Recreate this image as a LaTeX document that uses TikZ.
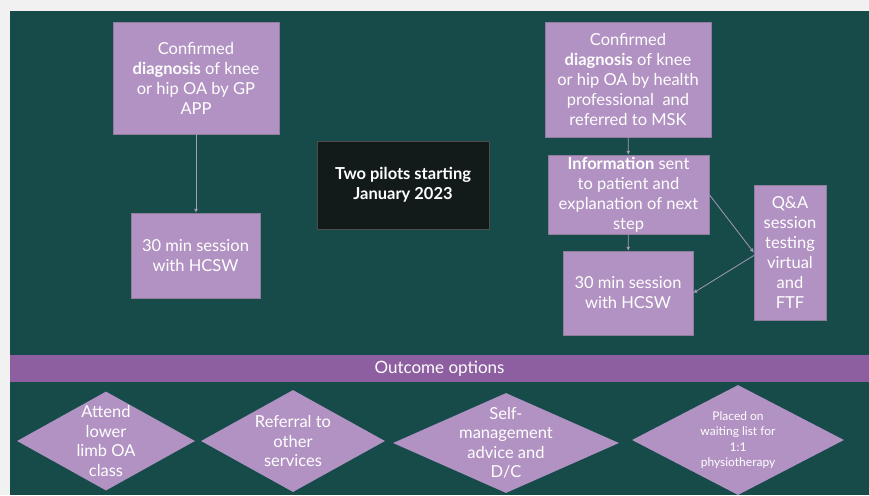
\documentclass[tikz,border=0pt]{standalone}
\usepackage{fontspec}
\setmainfont{Lato}
\usetikzlibrary{shapes.geometric,arrows.meta}
\definecolor{bgteal}{HTML}{164B49}
\definecolor{boxlilac}{HTML}{B192C2}
\definecolor{bandpurple}{HTML}{8E5FA0}
\definecolor{boxedge}{HTML}{8E7E9C}
\definecolor{arrowgrey}{HTML}{A59AB8}
\definecolor{pilotblack}{HTML}{131A1A}
\definecolor{pagegrey}{HTML}{F1F1F1}

\begin{document}
\begin{tikzpicture}[x=1pt, y=-1pt,
	textbox/.style={draw=boxedge, fill=boxlilac, text=white, inner sep=0, align=center, font=\fontsize{16.5}{20}\selectfont},
	optdiam/.style={diamond, fill=boxlilac, inner sep=0},
	optlabel/.style={text=white, align=center, font=\fontsize{16.5}{19.5}\selectfont},
	flow/.style={arrowgrey, line width=0.8, -{Latex[length=4pt,width=4pt]}}
]
\fill[pagegrey] (0,0) rectangle (869,495);
\fill[bgteal] (10,11) rectangle (869,495);

% GP APP pilot
\node[textbox, minimum width=166, minimum height=112] (conf1) at (196,78) {Confirmed\\\textbf{diagnosis} of knee\\or hip OA by GP\\APP};
\node[textbox, minimum width=129, minimum height=85] (sess1) at (195.5,255.5) {30 min session\\with HCSW};

\node[draw=gray!60!black, fill=pilotblack, text=white, minimum width=172, minimum height=88, inner sep=0, align=center, font=\bfseries\fontsize{16.5}{20}\selectfont] (pilots) at (403,185) {Two pilots starting\\January 2023};

% MSK pilot
\node[textbox, minimum width=166, minimum height=115] (conf2) at (628,79.5) {Confirmed\\\textbf{diagnosis} of knee\\or hip OA by health\\professional\ \ and\\referred to MSK};
\node[textbox, minimum width=161, minimum height=79] (info2) at (628.5,194.5) {\textbf{Information} sent\\to patient and\\explanation of next\\step};
\node[textbox, minimum width=130, minimum height=84] (sess2) at (628,293) {30 min session\\with HCSW};
\node[textbox, minimum width=72, minimum height=135] (qa2) at (790,252.5) {Q\&A\\session\\testing\\virtual\\and\\FTF};

\draw[flow] (conf1.south) -- (conf1.south |- sess1.north);
\draw[flow] (conf2) -- (info2);
\draw[flow] (info2) -- (sess2);
\draw[flow] (info2.east) -- (qa2.west);
\draw[flow] ([yshift=-3]qa2.west) -- (sess2.east);

% outcomes
\node[fill=bandpurple, minimum width=859, minimum height=27, inner sep=0, text=white, font=\fontsize{17}{18}\selectfont] (outband) at (439.5,368.5) {Outcome options};

\node[optdiam, minimum width=178, minimum height=99, label={[optlabel]center:{Attend\\lower\\limb OA\\class}}] (out1) at (106,441) {};
\node[optdiam, minimum width=184, minimum height=102, label={[optlabel]center:{Referral to\\other\\services}}] (out2) at (293,441) {};
\node[optdiam, minimum width=226, minimum height=100, label={[optlabel]center:{Self-\\management\\advice and\\D/C}}] (out3) at (506,443) {};
\node[optdiam, minimum width=212, minimum height=110, label={[optlabel, font=\fontsize{12}{15.5}\selectfont]center:{Placed on\\waiting list for\\1:1\\physiotherapy}}] (out4) at (738,440) {};
\end{tikzpicture}
\end{document}
